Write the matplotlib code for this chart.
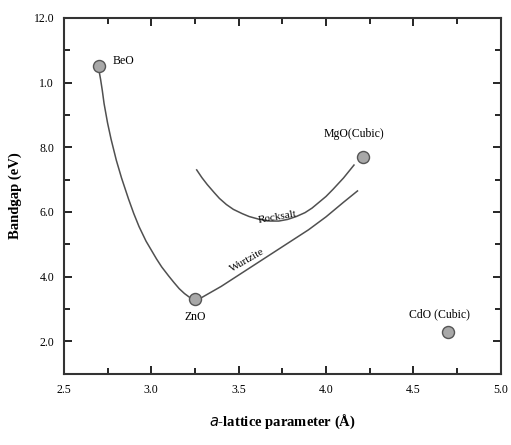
import matplotlib.pyplot as plt
from matplotlib.ticker import MultipleLocator

plt.rcParams['font.family'] = ['Liberation Serif', 'DejaVu Serif']

# compounds (marker points)
names = ['BeO', 'ZnO', 'MgO(Cubic)', 'CdO (Cubic)']
a_param = [2.70, 3.25, 4.21, 4.70]
gap = [10.5, 3.3, 7.7, 2.3]

# BeO -> ZnO curve
left_x = [2.70, 2.71, 2.72, 2.73, 2.75, 2.77, 2.80, 2.83, 2.87, 2.90,
          2.93, 2.97, 3.03, 3.06, 3.10, 3.13, 3.16, 3.19, 3.22]
left_y = [10.4, 10.1, 9.75, 9.35, 8.75, 8.25, 7.6, 7.05, 6.4, 5.95,
          5.55, 5.1, 4.55, 4.3, 4.02, 3.82, 3.63, 3.48, 3.36]

# wurtzite branch
wurtz_x = [3.28, 3.40, 3.50, 3.60, 3.70, 3.80, 3.90, 4.00, 4.10, 4.18]
wurtz_y = [3.33, 3.70, 4.05, 4.40, 4.75, 5.10, 5.45, 5.85, 6.30, 6.65]

# rocksalt branch
rock_x = [3.26, 3.29, 3.32, 3.36, 3.39, 3.43, 3.47, 3.52, 3.56, 3.62, 3.68,
          3.73, 3.78, 3.83, 3.88, 3.92, 3.96, 4.00, 4.04, 4.10, 4.16]
rock_y = [7.30, 7.06, 6.85, 6.60, 6.42, 6.23, 6.08, 5.95, 5.86, 5.77, 5.72,
          5.72, 5.77, 5.86, 5.98, 6.12, 6.30, 6.48, 6.70, 7.05, 7.45]

yticks = [2.0, 4.0, 6.0, 8.0, 10.0, 12.0]
ytick_labels = ['2.0', '4.0', '6.0', '8.0', '1.0', '12.0']
xticks = [2.5, 3.0, 3.5, 4.0, 4.5, 5.0]

fig = plt.figure(figsize=(5.11, 4.45), dpi=100)
ax = fig.add_axes([0.125, 0.16, 0.855, 0.80])

lc = '#505050'
ax.plot(left_x, left_y, color=lc, lw=1.1)
ax.plot(wurtz_x, wurtz_y, color=lc, lw=1.1)
ax.plot(rock_x, rock_y, color=lc, lw=1.1)
ax.scatter(a_param, gap, s=75, facecolor='#a8a8a8', edgecolor='#555555',
           linewidth=1.0, zorder=3)

fs = 8.5
ax.text(a_param[0] + 0.08, gap[0] + 0.15, names[0], fontsize=fs, ha='left', va='center')
ax.text(a_param[1], gap[1] - 0.55, names[1], fontsize=fs, ha='center', va='center')
ax.text(a_param[2] - 0.05, gap[2] + 0.7, names[2], fontsize=fs, ha='center', va='center')
ax.text(a_param[3] - 0.05, gap[3] + 0.55, names[3], fontsize=fs, ha='center', va='center')

ax.text(3.72, 5.85, 'Rocksalt', fontsize=8, rotation=10, ha='center', va='center')
ax.text(3.55, 4.5, 'Wurtzite', fontsize=8, rotation=30, ha='center', va='center')

ax.set_xlim(2.5, 5.0)
ax.set_ylim(1.0, 12.0)
ax.set_xticks(xticks)
ax.set_xticklabels(['%.1f' % v for v in xticks])
ax.set_yticks(yticks)
ax.set_yticklabels(ytick_labels)
ax.xaxis.set_minor_locator(MultipleLocator(0.25))
ax.yaxis.set_minor_locator(MultipleLocator(1.0))
ax.tick_params(which='both', direction='in', top=True, right=True,
               labelsize=8.5, width=1.2, pad=7)
ax.tick_params(which='major', length=6)
ax.tick_params(which='minor', length=4)
for sp in ax.spines.values():
    sp.set_linewidth(1.5)
    sp.set_color('#333333')

ax.set_xlabel('$a$-lattice parameter (Å)', fontsize=10.5, fontweight='bold', labelpad=12)
ax.set_ylabel('Bandgap (eV)', fontsize=10.5, fontweight='bold', labelpad=8)

fig.savefig('out.png', dpi=100)
